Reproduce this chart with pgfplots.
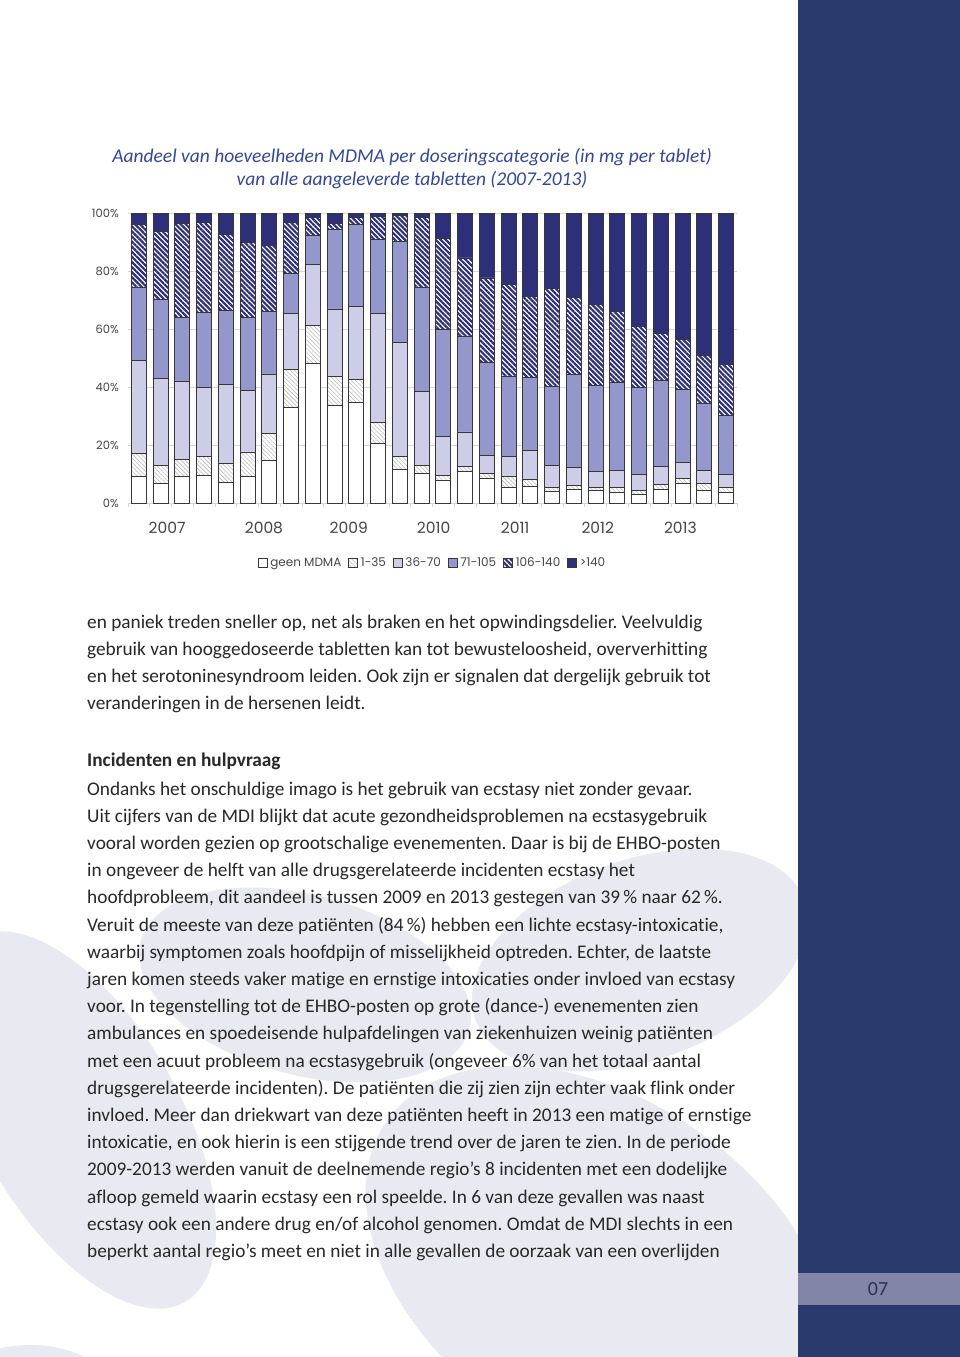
\documentclass[border=0pt]{standalone}
\usepackage{fontspec}
\setmainfont{Carlito}[Ligatures={TeX,NoCommon}]
\newfontfamily\chartfont{Poppins}
\usepackage{pgfplots}
\pgfplotsset{compat=1.18}
\usepackage{pgfplotstable}
\usetikzlibrary{patterns.meta}
\frenchspacing

\definecolor{strip}{RGB}{42,58,108}
\definecolor{pagebox}{RGB}{130,133,166}
\definecolor{blob}{RGB}{233,234,241}
\definecolor{titleblue}{RGB}{52,72,150}
\definecolor{bodytext}{RGB}{40,40,40}
\definecolor{labelgray}{RGB}{70,70,70}
\definecolor{gridgray}{RGB}{215,215,215}
\definecolor{border}{RGB}{55,55,55}
\definecolor{lav}{RGB}{205,205,232}
\definecolor{peri}{RGB}{148,151,203}
\definecolor{navy}{RGB}{45,48,120}

% share per sample (%), bars are quarterly 2007-2013
\pgfplotstableread{
x a b c d e f
0 9.0 8.0 32.1 25.4 21.7 3.8
1 6.6 6.4 30.1 27.0 23.5 6.4
2 9.2 5.7 26.9 22.3 32.3 3.6
3 9.4 6.7 23.6 25.9 31.2 3.2
4 7.1 6.6 27.3 25.4 26.2 7.4
5 9.2 8.4 21.3 25.2 25.6 10.3
6 14.6 9.3 20.6 21.6 22.8 11.1
7 33.1 12.9 19.5 13.5 17.8 3.2
8 48.2 13.1 21.0 9.9 6.3 1.5
9 33.6 10.0 23.3 27.4 2.1 3.6
10 34.7 7.9 25.2 28.4 2.1 1.7
11 20.6 7.3 37.5 25.4 8.1 1.1
12 11.4 4.7 39.1 35.0 8.9 0.9
13 10.3 2.7 25.5 36.0 24.1 1.4
14 7.7 1.7 13.6 36.7 31.4 8.9
15 10.9 1.7 11.9 33.1 26.9 15.5
16 8.5 1.6 6.3 32.0 29.2 22.4
17 5.5 3.8 6.6 27.9 31.5 24.7
18 5.7 2.3 10.0 25.3 27.8 28.9
19 4.1 1.4 7.5 27.3 33.7 26.0
20 4.6 1.5 6.3 32.0 26.5 29.1
21 4.4 0.9 5.6 29.7 27.8 31.6
22 3.8 1.4 6.1 30.4 24.4 33.9
23 3.1 1.3 5.3 30.3 20.9 39.1
24 4.8 1.6 6.2 29.7 16.1 41.6
25 6.8 1.7 5.6 25.1 17.1 43.7
26 4.5 2.1 4.7 23.2 16.4 49.1
27 3.8 1.7 4.4 20.4 17.4 52.3
}\mdma

\tikzset{
  body/.style={anchor=base west, inner sep=0pt, text=bodytext, font=\fontsize{19.3}{20}\selectfont},
}
\pgfplotsset{
  legbox/.style={legend image code/.code={\draw[##1,line width=0.5pt] (0pt,-4.5pt) rectangle (9pt,4.5pt);}},
}

\begin{document}
\begin{tikzpicture}
\begin{scope}[x=1pt,y=-1pt]
\fill[white] (0,0) rectangle (960,1357);
\path[use as bounding box] (0,0) rectangle (960,1357);

% faint background shapes
\begin{scope}
\clip (0,840) rectangle (798,1357);
\fill[blob, rotate around={-15:(305,985)}] (305,985) ellipse [x radius=170pt, y radius=90pt];
\fill[blob, rotate around={20:(640,960)}] (640,960) ellipse [x radius=175pt, y radius=100pt];
\fill[blob, rotate around={-60:(80,1120)}] (80,1120) ellipse [x radius=210pt, y radius=100pt];
\fill[blob, rotate around={-35:(600,1270)}] (600,1270) ellipse [x radius=260pt, y radius=170pt];
\fill[blob] (30,1390) ellipse [x radius=80pt, y radius=45pt];
\end{scope}

\fill[strip] (798,0) rectangle (960,1357);
\fill[pagebox] (798,1273) rectangle (960,1305);
\node[text={rgb,255:red,45;green,50;blue,85}, font=\fontsize{20}{20}\selectfont] at (878,1289) {07};

\node[anchor=base, text=titleblue, font=\itshape\fontsize{19.5}{20}\selectfont] at (412,162)
  {Aandeel van hoeveelheden MDMA per doseringscategorie (in mg per tablet)};
\node[anchor=base, text=titleblue, font=\itshape\fontsize{19.5}{20}\selectfont] at (412,185)
  {van alle aangeleverde tabletten (2007-2013)};

\node[body] at (87,628) {en paniek treden sneller op, net als braken en het opwindingsdelier. Veelvuldig};
\node[body] at (87,655.2) {gebruik van hooggedoseerde tabletten kan tot bewusteloosheid, oververhitting};
\node[body] at (87,682.4) {en het serotoninesyndroom leiden. Ook zijn er signalen dat dergelijk gebruik tot};
\node[body] at (87,709.6) {veranderingen in de hersenen leidt.};

\node[body, font=\bfseries\fontsize{19.3}{20}\selectfont] at (87,766.5) {Incidenten en hulpvraag};
\node[body] at (87,795.0) {Ondanks het onschuldige imago is het gebruik van ecstasy niet zonder gevaar.};
\node[body] at (87,822.2) {Uit cijfers van de MDI blijkt dat acute gezondheidsproblemen na ecstasygebruik};
\node[body] at (87,849.4) {vooral worden gezien op grootschalige evenementen. Daar is bij de EHBO-posten};
\node[body] at (87,876.6) {in ongeveer de helft van alle drugsgerelateerde incidenten ecstasy het};
\node[body] at (87,903.8) {hoofdprobleem, dit aandeel is tussen 2009 en 2013 gestegen van 39\,\% naar 62\,\%.};
\node[body] at (87,931.0) {Veruit de meeste van deze patiënten (84\,\%) hebben een lichte ecstasy-intoxicatie,};
\node[body] at (87,958.2) {waarbij symptomen zoals hoofdpijn of misselijkheid optreden. Echter, de laatste};
\node[body] at (87,985.4) {jaren komen steeds vaker matige en ernstige intoxicaties onder invloed van ecstasy};
\node[body] at (87,1012.6) {voor. In tegenstelling tot de EHBO-posten op grote (dance-) evenementen zien};
\node[body] at (87,1039.8) {ambulances en spoedeisende hulpafdelingen van ziekenhuizen weinig patiënten};
\node[body] at (87,1067.0) {met een acuut probleem na ecstasygebruik (ongeveer 6\% van het totaal aantal};
\node[body] at (87,1094.2) {drugsgerelateerde incidenten). De patiënten die zij zien zijn echter vaak flink onder};
\node[body] at (87,1121.4) {invloed. Meer dan driekwart van deze patiënten heeft in 2013 een matige of ernstige};
\node[body] at (87,1148.6) {intoxicatie, en ook hierin is een stijgende trend over de jaren te zien. In de periode};
\node[body] at (87,1175.8) {2009-2013 werden vanuit de deelnemende regio’s 8 incidenten met een dodelijke};
\node[body] at (87,1203.0) {afloop gemeld waarin ecstasy een rol speelde. In 6 van deze gevallen was naast};
\node[body] at (87,1230.2) {ecstasy ook een andere drug en/of alcohol genomen. Omdat de MDI slechts in een};
\node[body] at (87,1257.4) {beperkt aantal regio’s meet en niet in alle gevallen de oorzaak van een overlijden};
\end{scope}

\begin{axis}[
  at={(128pt,-503pt)}, anchor=south west,
  scale only axis, width=609pt, height=290pt,
  ybar stacked, bar width=15pt,
  xmin=-0.5, xmax=27.5, ymin=0, ymax=100,
  axis line style={draw=none},
  ytick={0,20,40,60,80,100},
  yticklabels={0\%,20\%,40\%,60\%,80\%,100\%},
  ymajorgrids, grid style={gridgray, line width=0.7pt},
  major tick length=0pt,
  xtick={1.3,5.75,9.65,13.55,17.3,21.1,24.9},
  xticklabels={2007,2008,2009,2010,2011,2012,2013},
  minor xtick={-0.5,0.5,...,27.5},
  minor tick length=4pt, tick align=outside,
  minor tick style={gridgray, line width=0.7pt},
  xtick pos=bottom, ytick pos=left,
  yticklabel style={font=\chartfont\fontsize{11.5}{12}\selectfont, text=labelgray, inner sep=0pt, anchor=east, xshift=-9pt},
  xticklabel style={font=\chartfont\fontsize{15.5}{16}\selectfont, text=labelgray, inner sep=0pt, anchor=center, yshift=-25pt},
  legend style={at={(0.5,-0.207)}, anchor=center, draw=none, fill=none,
    font=\chartfont\fontsize{12}{12}\selectfont, text=labelgray,
    /tikz/every even column/.append style={column sep=5pt},
    /tikz/every odd column/.append style={column sep=1pt}},
  legend columns=6,
  legend cell align=left,
]
\addplot[legbox, fill=white, draw=border, line width=0.9pt] table[x=x,y=a]{\mdma};
\addlegendentry{geen MDMA}
\addplot[legbox, fill=white, draw=border, line width=0.9pt,
  postaction={pattern={Lines[angle=-45,distance=3pt,line width=0.6pt]}, pattern color=gray!55}] table[x=x,y=b]{\mdma};
\addlegendentry{1-35}
\addplot[legbox, fill=lav, draw=border, line width=0.9pt] table[x=x,y=c]{\mdma};
\addlegendentry{36-70}
\addplot[legbox, fill=peri, draw=border, line width=0.9pt] table[x=x,y=d]{\mdma};
\addlegendentry{71-105}
\addplot[legbox, fill=white, draw=border, line width=0.9pt,
  postaction={pattern={Lines[angle=-45,distance=3.6pt,line width=2.2pt]}, pattern color=navy}] table[x=x,y=e]{\mdma};
\addlegendentry{106-140}
\addplot[legbox, fill=navy, draw=border, line width=0.9pt] table[x=x,y=f]{\mdma};
\addlegendentry{>140}
\end{axis}
\end{tikzpicture}
\end{document}
